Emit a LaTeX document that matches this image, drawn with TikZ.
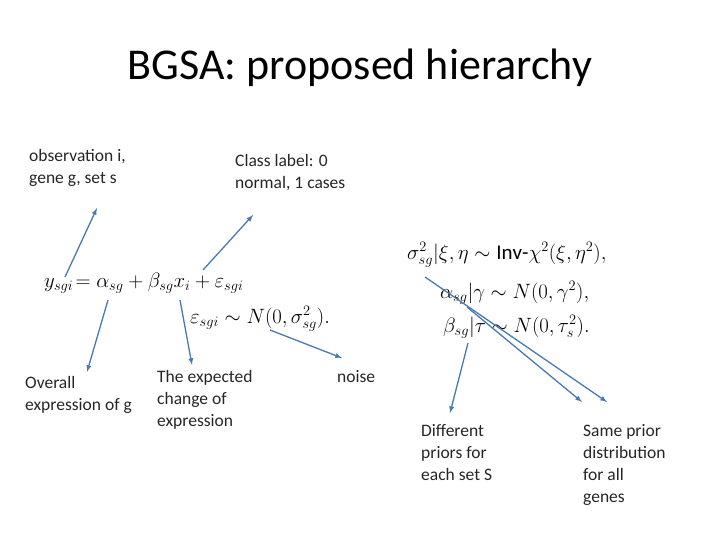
\documentclass[tikz,border=0pt]{standalone}
\usepackage{fontspec}
\usepackage{amsmath}
\setmainfont{Carlito}
\begin{document}
\begin{tikzpicture}[x=1pt,y=-1pt,
  lbl/.style={anchor=north west,align=left,font=\fontsize{17.5}{22}\selectfont,inner sep=0,text=black!85},
  eq/.style={font=\fontsize{20.5}{22}\selectfont,inner sep=0},
  arr/.style={draw=arrowc,line width=1.3pt,-latex}]
\definecolor{arrowc}{HTML}{4A7AB0}
\useasboundingbox (0,0) rectangle (720,540);
\node[font=\fontsize{44}{48}\selectfont] (title) at (360,68) {BGSA: proposed hierarchy};
\node[lbl] (obs) at (29,149) {observation i,\\gene g, set s};
\node[lbl] (cls) at (235,154) {Class label: 0\\normal, 1 cases};
\node[lbl] (ovr) at (25,376) {Overall\\expression of g};
\node[lbl] (exp) at (157,370) {The expected\\change of\\expression};
\node[lbl] (noi) at (337,370) {noise};
\node[lbl] (dif) at (421,424) {Different\\priors for\\each set S};
\node[lbl] (same) at (583,424) {Same prior\\distribution\\for all\\genes};
\node[eq,anchor=west] (eq1) at (44,283) {$y_{sgi}\!=\alpha_{sg}+\beta_{sg}x_i+\varepsilon_{sgi}$};
\node[eq,anchor=west] (eq2) at (190,319) {$\varepsilon_{sgi}\sim N(0,\sigma^2_{sg}).$};
\node[eq,anchor=west,font=\fontsize{21}{22}\selectfont] (eq3) at (407,255) {$\sigma^2_{sg}|\xi,\eta\sim \mathrm{Inv}\text{-}\chi^2(\xi,\eta^2),$};
\node[eq,anchor=west] (eq4) at (440,293) {$\alpha_{sg}|\gamma\sim N(0,\gamma^2),$};
\node[eq,anchor=west] (eq5) at (443,327) {$\beta_{sg}|\tau\sim N(0,\tau_s^2).$};
\coordinate (a1s) at (65,277); \coordinate (a1e) at (97,208);
\coordinate (a2s) at (203,270); \coordinate (a2e) at (253,215);
\coordinate (a3s) at (108,300); \coordinate (a3e) at (87,372);
\coordinate (a4s) at (180,300); \coordinate (a4e) at (192,365);
\coordinate (a5s) at (270,330); \coordinate (a5e) at (342,358);
\coordinate (a6s) at (425,277); \coordinate (a6e) at (607,402);
\coordinate (a7s) at (467,307); \coordinate (a7e) at (582,402);
\coordinate (a8s) at (468,343); \coordinate (a8e) at (450,413);
\foreach \i in {1,...,8} \draw[arr] (a\i s) -- (a\i e);
\end{tikzpicture}
\end{document}
